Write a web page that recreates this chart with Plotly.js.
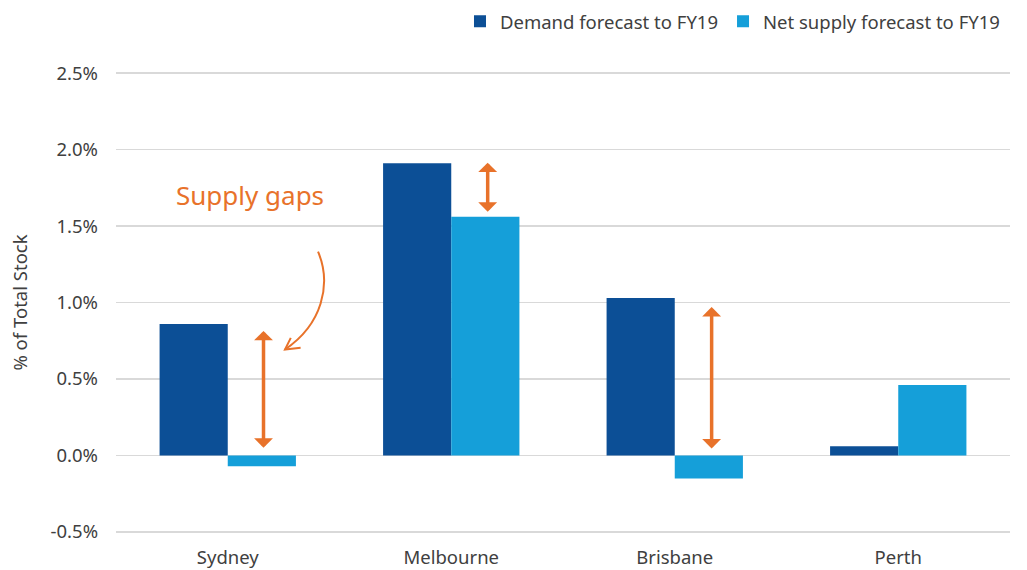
<!DOCTYPE html>
<html>
<head>
<meta charset="utf-8">
<script src="https://cdn.plot.ly/plotly-3.0.1.min.js"></script>
<style>
  html, body { margin: 0; padding: 0; background: #ffffff; }
  #chart { width: 1027px; height: 570px; }
</style>
</head>
<body>
<div id="chart"></div>
<script>
// Annual demand vs net supply, as a share of total stock, by city
const cities = ['Sydney', 'Melbourne', 'Brisbane', 'Perth'];
const demandForecast = [0.86, 1.91, 1.03, 0.06];
const netSupplyForecast = [-0.07, 1.56, -0.15, 0.46];
const seriesNames = ['Demand forecast to FY19', 'Net supply forecast to FY19'];
const yTickValues = [-0.5, 0.0, 0.5, 1.0, 1.5, 2.0, 2.5];
const yTickLabels = ['-0.5%', '0.0%', '0.5%', '1.0%', '1.5%', '2.0%', '2.5%'];

const DARK_BLUE = '#0c4f96';
const LIGHT_BLUE = '#159fd9';
const ORANGE = '#e8722a';
const TEXT = '#404040';
const FONT = 'Noto Sans, Open Sans, sans-serif';

const xPos = cities.map((_, i) => i);

const traces = [
  {
    type: 'bar',
    name: seriesNames[0],
    x: xPos,
    y: demandForecast,
    marker: { color: DARK_BLUE },
    hoverinfo: 'skip'
  },
  {
    type: 'bar',
    name: seriesNames[1],
    x: xPos,
    y: netSupplyForecast,
    marker: { color: LIGHT_BLUE },
    hoverinfo: 'skip'
  }
];

// double-headed arrows marking the gap between demand and supply
function gapArrow(x, yBottom, yTop) {
  return {
    x: x, y: yBottom, ax: x, ay: yTop,
    xref: 'x', yref: 'y', axref: 'x', ayref: 'y',
    text: '', showarrow: true,
    arrowside: 'end+start',
    arrowhead: 1, startarrowhead: 1,
    arrowsize: 0.9, startarrowsize: 0.9,
    arrowwidth: 3.5, arrowcolor: ORANGE,
    standoff: 0, startstandoff: 0
  };
}

const annotations = [
  gapArrow(0.16, 0.05, 0.824),
  gapArrow(1.163, 1.593, 1.924),
  gapArrow(2.165, 0.046, 0.98),
  {
    x: 0.10, y: 1.706, xref: 'x', yref: 'y',
    text: 'Supply gaps', showarrow: false,
    xanchor: 'center', yanchor: 'middle',
    font: { family: FONT, size: 26, color: ORANGE }
  }
];

const shapes = [
  {
    type: 'path', xref: 'x', yref: 'y',
    path: 'M 0.404,1.333 C 0.466,1.118 0.422,0.856 0.256,0.693',
    line: { color: ORANGE, width: 2 }
  },
  {
    type: 'path', xref: 'x', yref: 'y',
    path: 'M 0.282,0.769 L 0.256,0.693 L 0.326,0.704',
    line: { color: ORANGE, width: 2 }
  }
];

const layout = {
  width: 1027,
  height: 570,
  margin: { l: 116, r: 17, t: 70.2, b: 34.6, autoexpand: false },
  paper_bgcolor: '#ffffff',
  plot_bgcolor: '#ffffff',
  font: { family: FONT, size: 18.5, color: TEXT },
  barmode: 'group',
  bargap: 0.39,
  bargroupgap: 0,
  showlegend: true,
  legend: {
    orientation: 'h',
    x: 0.9944, xanchor: 'right',
    y: 1.1445, yanchor: 'top',
    font: { family: FONT, size: 18.5, color: TEXT },
    bgcolor: 'rgba(0,0,0,0)'
  },
  xaxis: {
    range: [-0.5, 3.5],
    tickvals: xPos,
    ticktext: cities,
    showgrid: false,
    zeroline: false,
    showline: false,
    ticks: '',
    ticklabelstandoff: 9,
    tickfont: { family: FONT, size: 18.5, color: TEXT },
    fixedrange: true
  },
  yaxis: {
    range: [-0.52, 2.52],
    tickvals: yTickValues,
    ticktext: yTickLabels,
    showgrid: true,
    gridcolor: '#d9d9d9',
    gridwidth: 1.4,
    zeroline: false,
    showline: false,
    ticks: '',
    ticklabelstandoff: 17,
    tickfont: { family: FONT, size: 18.5, color: TEXT },
    title: {
      text: '% of Total Stock',
      font: { family: FONT, size: 18.5, color: TEXT },
      standoff: 18
    },
    fixedrange: true
  },
  annotations: annotations,
  shapes: shapes
};

Plotly.newPlot('chart', traces, layout, { displayModeBar: false, staticPlot: true });
</script>
</body>
</html>
